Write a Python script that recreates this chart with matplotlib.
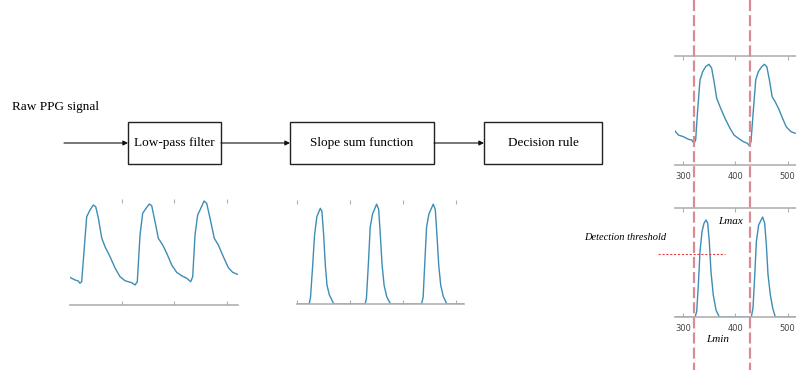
import matplotlib
matplotlib.use("Agg")
import matplotlib.pyplot as plt
from matplotlib.patches import Rectangle

# ---------------- data ----------------
block_labels = ["Low-pass filter", "Slope sum function", "Decision rule"]
input_label = "Raw PPG signal"

# Raw PPG (low-pass filtered) – left panel
raw_x = [200, 209.6, 216, 219, 222.4, 226.8, 232, 238.3, 244.7, 249.3, 254.3, 260.8, 267.1,
         276.7, 286.3, 295.9, 305.4, 318.3, 324.6, 329, 334.2, 339.3, 345.7, 352, 356.6,
         363, 369.3, 377.7, 385.4, 395, 404.5, 414.1, 423.7, 431.3, 435.2, 439.6, 444.7,
         449.2, 456.9, 462, 468.4, 476.6, 484.3, 493.9, 503.5, 511.9, 520.7]
raw_y = [0.261, 0.236, 0.226, 0.205, 0.220, 0.503, 0.833, 0.896, 0.943, 0.927, 0.821, 0.632,
         0.550, 0.456, 0.349, 0.267, 0.229, 0.210, 0.189, 0.220, 0.660, 0.865, 0.912, 0.953,
         0.937, 0.786, 0.629, 0.566, 0.488, 0.377, 0.308, 0.276, 0.252, 0.220, 0.267, 0.660,
         0.849, 0.896, 0.981, 0.959, 0.818, 0.629, 0.566, 0.456, 0.352, 0.308, 0.290]

# Slope sum function – middle panel
ssf_x = [197.6, 223, 225.5, 229.3, 233.1, 237.5, 244, 247, 250.3, 253.4, 256.6, 261.1, 269.3,
         328.6, 331, 334.9, 338.1, 342.5, 350.2, 354, 357.2, 360.5, 364.3, 369.3, 376.4,
         434.8, 437.9, 441.2, 444.4, 448.8, 457, 460.8, 464, 467.3, 471.1, 476.1, 482.6, 515]
ssf_y = [0, 0, 0.064, 0.35, 0.663, 0.84, 0.92, 0.89, 0.663, 0.375, 0.18, 0.087, 0,
         0, 0.058, 0.41, 0.74, 0.865, 0.96, 0.91, 0.663, 0.375, 0.18, 0.07, 0,
         0, 0.064, 0.41, 0.74, 0.865, 0.96, 0.91, 0.663, 0.375, 0.18, 0.07, 0, 0]

# Raw PPG – right top panel
rt_x = [284.7, 291, 300.6, 310.2, 316.6, 321, 324.2, 328, 332.5, 337.6, 343.3, 349.7, 354.8,
        359.9, 364.4, 370.7, 380.3, 389.8, 397.5, 405.7, 415.3, 423, 426.8, 430, 434.5, 439,
        444, 450.5, 455.6, 460.2, 465.2, 470.4, 476.1, 482.5, 489, 497.3, 506.3, 514.5]
rt_y = [0.312, 0.275, 0.26, 0.236, 0.229, 0.199, 0.229, 0.505, 0.78, 0.856, 0.902, 0.924,
        0.887, 0.75, 0.612, 0.535, 0.428, 0.337, 0.275, 0.245, 0.214, 0.199, 0.177, 0.214,
        0.505, 0.78, 0.856, 0.902, 0.924, 0.902, 0.78, 0.627, 0.581, 0.52, 0.443, 0.351,
        0.306, 0.291]

# Slope sum function – right bottom panel
rb_x = [284.7, 323, 326.2, 329.3, 332.5, 336.3, 340.2, 344, 347.2, 350.3, 353.5, 357.9,
        363.1, 369.4, 430.6, 433.8, 436.9, 440.2, 444.6, 452.2, 456.1, 459.3, 462.5, 466.9,
        471.4, 476.5, 517]
rb_y = [0, 0, 0.05, 0.294, 0.6, 0.783, 0.86, 0.89, 0.86, 0.69, 0.415, 0.2, 0.064, 0,
        0, 0.083, 0.358, 0.69, 0.844, 0.917, 0.862, 0.664, 0.39, 0.205, 0.083, 0, 0]

left_ticks = [300, 400, 500]
mid_ticks = [200, 300, 400, 500]
right_ticks = [300, 400, 500]
onsets = [321, 428]          # detected pulse onsets (samples)
threshold = 0.578
threshold_span = [252, 380]

# ---------------- figure ----------------
W, H = 796, 370
fig = plt.figure(figsize=(W / 100, H / 100), dpi=100)
serif = ["Liberation Serif", "DejaVu Serif"]
sig_color = "#3d8db5"
grey = "#b0b0b0"
red_dash = "#da8a94"

def px_axes(x0, y0, x1, y1):
    return fig.add_axes([x0 / W, 1 - y1 / H, (x1 - x0) / W, (y1 - y0) / H])

def style(ax, xlim, ticks, labels=False, top_line=False):
    ax.set_xticks(ticks)
    ax.set_xlim(*xlim)
    ax.set_ylim(0, 1)
    ax.set_facecolor("none")
    for s in ["left", "right"]:
        ax.spines[s].set_visible(False)
    ax.spines["bottom"].set_color(grey)
    ax.spines["bottom"].set_linewidth(1.2)
    ax.spines["top"].set_visible(top_line)
    ax.spines["top"].set_color(grey)
    ax.spines["top"].set_linewidth(1.2)
    ax.set_yticks([])
    ax.tick_params(axis="x", direction="in", length=3, width=0.8, color=grey,
                   top=True, bottom=True, labelsize=6, labelcolor="#444444", pad=5)
    if not labels:
        ax.set_xticklabels([])

# left panel
ax1 = px_axes(70, 199, 238, 305)
ax1.plot(raw_x, raw_y, color=sig_color, lw=1.0)
style(ax1, (200, 522), left_ticks)

# middle panel
ax2 = px_axes(297, 200, 464, 304)
ax2.plot(ssf_x, ssf_y, color=sig_color, lw=1.0)
style(ax2, (200, 515), mid_ticks)

# right top
ax3 = px_axes(675, 56, 812, 165)
ax3.plot(rt_x, rt_y, color=sig_color, lw=1.0)
style(ax3, (284.7, 546.6), right_ticks, labels=True, top_line=True)

# right bottom
ax4 = px_axes(675, 208, 812, 317)
ax4.plot(rb_x, rb_y, color=sig_color, lw=1.0)
style(ax4, (284.7, 546.6), right_ticks, labels=True, top_line=True)

# overlay for diagram
ov = fig.add_axes([0, 0, 1, 1])
ov.set_xlim(0, W)
ov.set_ylim(H, 0)
ov.axis("off")
ov.set_zorder(5)

ov.text(12, 107, input_label, fontsize=9.5, family=serif, va="center", ha="left")

boxes = [(128, 221), (290, 434), (484, 602)]
by0, by1 = 122, 164
for (x0, x1), lab in zip(boxes, block_labels):
    ov.add_patch(Rectangle((x0, by0), x1 - x0, by1 - by0, fill=False, ec="#222222", lw=1.0))
    ov.text((x0 + x1) / 2, (by0 + by1) / 2, lab, fontsize=9.5, family=serif,
            ha="center", va="center")

arrows = [(64, 128), (221, 290), (434, 484)]
for x0, x1 in arrows:
    ov.annotate("", xy=(x1, 143), xytext=(x0, 143),
                arrowprops=dict(arrowstyle="-|>", color="#111111", lw=0.8,
                                mutation_scale=7, shrinkA=0, shrinkB=0))

fig.canvas.draw()
# dashed onset lines spanning the whole figure height
for xo in onsets:
    xpx = ax3.transData.transform((xo, 0))[0]
    ov.plot([xpx, xpx], [0, H], color=red_dash, lw=1.6, dashes=(5, 1.8), zorder=6)

# threshold line
p0 = ax4.transData.transform((threshold_span[0], threshold))
p1 = ax4.transData.transform((threshold_span[1], threshold))
ov.plot([p0[0], p1[0]], [H - p0[1], H - p1[1]], color="#e0474c", lw=0.8,
        dashes=(2, 1.5), zorder=6)

ov.text(584, 237, "Detection threshold", fontsize=7.5, family=serif, style="italic",
        ha="left", va="center")
ov.text(718, 221, "Lmax", fontsize=8, family=serif, style="italic", ha="left", va="center")
ov.text(706, 339, "Lmin", fontsize=8, family=serif, style="italic", ha="left", va="center")

fig.savefig("out.png", dpi=100)
